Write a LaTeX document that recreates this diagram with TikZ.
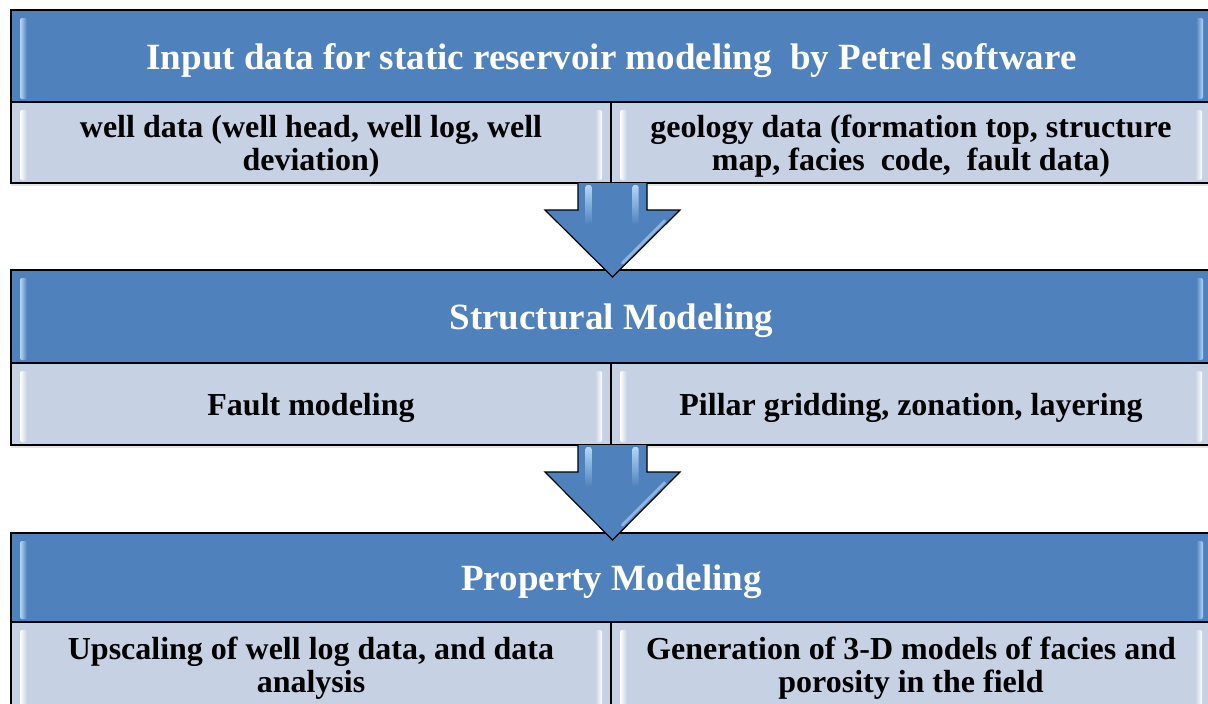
\documentclass[tikz,border=0pt]{standalone}
\usepackage{fontspec}
\setmainfont{Liberation Serif}
\usetikzlibrary{calc, positioning, shadows}
\definecolor{hdBlue}{HTML}{4F81BD}
\definecolor{subBlue}{HTML}{C6D1E4}
\definecolor{glintBlue}{HTML}{B5D6F6}
\tikzset{
    headBox/.style={draw=black, line width=1.5pt, fill=hdBlue, text=white, anchor=north west, outer sep=0pt, inner sep=0pt, text depth=0pt, minimum width=1201pt, font=\fontsize{37}{42}\selectfont\bfseries, drop shadow={opacity=0.2, shadow xshift=0pt, shadow yshift=-3pt}},
    subBox/.style={draw=black, line width=1.5pt, fill=subBlue, anchor=north west, outer sep=0pt, inner sep=0pt, text depth=0pt, minimum width=600pt, minimum height=82pt, align=center, font=\fontsize{32}{33}\selectfont\bfseries, drop shadow={opacity=0.2, shadow xshift=0pt, shadow yshift=-3pt}},
    flowArrow/.style={draw=black, line width=1.2pt, fill=hdBlue, line join=miter},
    streak/.style={top color=glintBlue, bottom color=hdBlue, rounded corners=2pt},
}
% light strips along the inner left and right edge of a box
\newcommand{\drawGlint}[3]{
    \shade[left color=#3, right color=#2, rounded corners=2pt] ($(#1.north west)+(9,8)$) rectangle ($(#1.south west)+(16,-3)$);
    \shade[left color=#2, right color=#3, rounded corners=2pt] ($(#1.north east)+(-16,8)$) rectangle ($(#1.south east)+(-9,-3)$);
}
% block arrow from the bottom of one block down into the next header
\newcommand{\drawFlow}[2]{
    \coordinate (flowTop) at ($(#1.south east)+(1.5,0)$);
    \coordinate (flowTip) at ($(flowTop |- #2.north)+(0,7)$);
    \filldraw[flowArrow] ($(flowTop)+(-34.5,0)$) -- ($(flowTop)+(-34.5,27)$) -- ($(flowTop)+(-67.5,27)$) -- (flowTip) -- ($(flowTop)+(67.5,27)$) -- ($(flowTop)+(34.5,27)$) -- ($(flowTop)+(34.5,0)$);
    \shade[streak] ($(flowTop)+(-27,2)$) rectangle ($(flowTop)+(-21,42)$);
    \shade[streak] ($(flowTop)+(20,2)$) rectangle ($(flowTop)+(26,42)$);
    \draw[glintBlue, line width=3pt, opacity=0.6, line cap=round] ($(flowTop)+(52,38)$) -- ($(flowTop)+(10,80)$);
}

\begin{document}
\begin{tikzpicture}[x=1pt, y=-1pt]
    \clip (0,0) rectangle (1208,704);
    \fill[white] (0,0) rectangle (1208,704);

    % input data
    \node[headBox, minimum height=92pt] (inputHd) at (11,10) {Input data for static reservoir modeling~ by Petrel software};
    \node[subBox, minimum height=81pt] (wellSub) at (inputHd.south west) {well data (well head, well log, well\\deviation)};
    \node[subBox, minimum height=81pt] (geoSub) at (wellSub.north east) {geology data (formation top, structure\\map, facies~ code,~ fault data)};

    % structural modeling
    \node[headBox, minimum height=93pt] (structHd) at (11,270) {Structural Modeling};
    \node[subBox] (faultSub) at (structHd.south west) {Fault modeling};
    \node[subBox] (pillarSub) at (faultSub.north east) {Pillar gridding, zonation, layering};

    % property modeling
    \node[headBox, minimum height=89pt] (propHd) at (11,533) {Property Modeling};
    \node[subBox, minimum height=86pt] (upscaleSub) at (propHd.south west) {Upscaling of well log data, and data\\analysis};
    \node[subBox, minimum height=86pt] (genSub) at (upscaleSub.north east) {Generation of 3-D models of facies and\\porosity in the field};

    \drawGlint{inputHd}{hdBlue}{glintBlue}
    \drawGlint{structHd}{hdBlue}{glintBlue}
    \drawGlint{propHd}{hdBlue}{glintBlue}
    \drawGlint{wellSub}{subBlue}{white}
    \drawGlint{geoSub}{subBlue}{white}
    \drawGlint{faultSub}{subBlue}{white}
    \drawGlint{pillarSub}{subBlue}{white}
    \drawGlint{upscaleSub}{subBlue}{white}
    \drawGlint{genSub}{subBlue}{white}

    \drawFlow{wellSub}{structHd}
    \drawFlow{faultSub}{propHd}

\end{tikzpicture}
\end{document}
